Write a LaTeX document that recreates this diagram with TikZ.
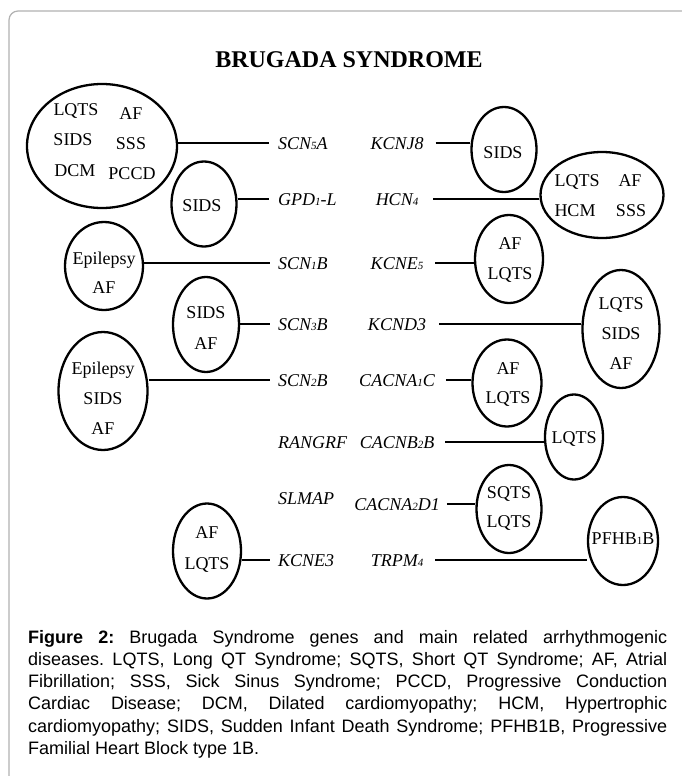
\documentclass[tikz,border=0pt]{standalone}
\usepackage{fontspec}
\setmainfont{Liberation Serif}
\newfontfamily\capfont{Liberation Sans}
\usetikzlibrary{shapes.geometric}
\newcommand{\sd}[1]{{\fontsize{11}{11}\selectfont #1}}
\frenchspacing
\begin{document}
\begin{tikzpicture}[x=1pt, y=-1pt,
  dis/.style={draw, ellipse, line width=2.3pt, inner sep=0pt},
  lab/.style={font=\fontsize{18}{18}\selectfont, inner sep=0pt, text height=12pt, text depth=0pt},
  gene/.style={font=\fontsize{18}{18}\selectfont\itshape, inner sep=0pt, text height=12pt, text depth=0pt},
  conn/.style={line width=2.8pt},
  capline/.style={anchor=base west, inner sep=0pt, font=\capfont\fontsize{18}{18}\selectfont}]
\useasboundingbox (0,0) rectangle (681,776);
\fill[white] (0,0) rectangle (681,776);
\draw[line width=1.2pt, draw=black!30, rounded corners=9pt] (682,11) -- (9,11) -- (9,777);

\node[font=\bfseries\fontsize{24}{24}\selectfont, inner sep=0pt, text height=16pt, text depth=0pt] (title) at (349,59) {BRUGADA SYNDROME};

% ellipses
\node[dis, minimum width=150pt, minimum height=124pt] (e1) at (102,146) {};
\node[dis, minimum width=65pt, minimum height=85pt] (e2) at (504,149.5) {};
\node[dis, minimum width=65pt, minimum height=85pt] (e3) at (204,204) {};
\node[dis, minimum width=123pt, minimum height=86pt] (e4) at (602,195) {};
\node[dis, minimum width=78pt, minimum height=88pt] (e5) at (104,266) {};
\node[dis, minimum width=68pt, minimum height=88pt] (e6) at (509,259) {};
\node[dis, minimum width=66pt, minimum height=95pt] (e7) at (206,324.5) {};
\node[dis, minimum width=77pt, minimum height=118pt] (e8) at (621,329) {};
\node[dis, minimum width=89pt, minimum height=118pt] (e9) at (103,391) {};
\node[dis, minimum width=69pt, minimum height=87pt] (e10) at (507,383) {};
\node[dis, minimum width=58pt, minimum height=85pt] (e11) at (574,437) {};
\node[dis, minimum width=65pt, minimum height=88pt] (e12) at (509,509) {};
\node[dis, minimum width=68pt, minimum height=95pt] (e13) at (207,551) {};
\node[dis, minimum width=70pt, minimum height=88pt] (e14) at (623,541) {};

% disease labels
\node[lab] (t1a) at (76,109) {LQTS};
\node[lab] (t1b) at (131,113) {AF};
\node[lab] (t1c) at (73,139) {SIDS};
\node[lab] (t1d) at (131,143) {SSS};
\node[lab] (t1e) at (75,170) {DCM};
\node[lab] (t1f) at (132,173) {PCCD};
\node[lab] (t2a) at (503,152) {SIDS};
\node[lab] (t3a) at (202,205) {SIDS};
\node[lab] (t4a) at (577,180) {LQTS};
\node[lab] (t4b) at (630,180) {AF};
\node[lab] (t4c) at (575,210) {HCM};
\node[lab] (t4d) at (631,210) {SSS};
\node[lab] (t5a) at (104,258) {Epilepsy};
\node[lab] (t5b) at (104,287) {AF};
\node[lab] (t6a) at (510,243) {AF};
\node[lab] (t6b) at (510,273) {LQTS};
\node[lab] (t7a) at (206,312) {SIDS};
\node[lab] (t7b) at (206,343) {AF};
\node[lab] (t8a) at (621,303) {LQTS};
\node[lab] (t8b) at (621,333) {SIDS};
\node[lab] (t8c) at (621,363) {AF};
\node[lab] (t9a) at (103,368) {Epilepsy};
\node[lab] (t9b) at (103,398) {SIDS};
\node[lab] (t9c) at (103,428) {AF};
\node[lab] (t10a) at (508,368) {AF};
\node[lab] (t10b) at (508,397) {LQTS};
\node[lab] (t11a) at (574,437) {LQTS};
\node[lab] (t12a) at (509,492) {SQTS};
\node[lab] (t12b) at (509,521) {LQTS};
\node[lab] (t13a) at (207,532) {AF};
\node[lab] (t13b) at (207,563) {LQTS};
\node[lab] (t14a) at (623,538) {PFHB\sd{1}B};

% genes, left column
\node[gene, anchor=west] (scn5a) at (278,143) {SCN\sd{5}A};
\node[gene, anchor=west] (gpd1l) at (278,199) {GPD\sd{1}-L};
\node[gene, anchor=west] (scn1b) at (278,263) {SCN\sd{1}B};
\node[gene, anchor=west] (scn3b) at (278,324) {SCN\sd{3}B};
\node[gene, anchor=west] (scn2b) at (278,380) {SCN\sd{2}B};
\node[gene, anchor=west] (rangrf) at (278,442) {RANGRF};
\node[gene, anchor=west] (slmap) at (278,498) {SLMAP};
\node[gene, anchor=west] (kcne3) at (278,560) {KCNE3};
% genes, right column
\node[gene] (kcnj8) at (397,143) {KCNJ8};
\node[gene] (hcn4) at (397,199) {HCN\sd{4}};
\node[gene] (kcne5) at (397,263) {KCNE\sd{5}};
\node[gene] (kcnd3) at (397,324) {KCND3};
\node[gene] (cacna1c) at (397,380) {CACNA\sd{1}C};
\node[gene] (cacnb2b) at (397,442) {CACNB\sd{2}B};
\node[gene] (cacna2d1) at (397,504) {CACNA\sd{2}D1};
\node[gene] (trpm4) at (397,560) {TRPM\sd{4}};

% connectors
\draw[conn] (e1.east |- scn5a) -- ([xshift=-9pt]scn5a.west);
\draw[conn] (e3.east |- gpd1l) -- ([xshift=-9pt]gpd1l.west);
\draw[conn] (e5.east |- scn1b) -- ([xshift=-8pt]scn1b.west);
\draw[conn] (e7.east |- scn3b) -- ([xshift=-8pt]scn3b.west);
\draw[conn] (e9.east |- scn2b) -- ([xshift=-8pt]scn2b.west);
\draw[conn] (e13.east |- kcne3) -- ([xshift=-8pt]kcne3.west);
\draw[conn] ([xshift=12pt]kcnj8.east) -- (e2.west |- kcnj8);
\draw[conn] ([xshift=15pt]hcn4.east) -- (e4.west |- hcn4);
\draw[conn] ([xshift=12pt]kcne5.east) -- (e6.west |- kcne5);
\draw[conn] ([xshift=13pt]kcnd3.east) -- (e8.west |- kcnd3);
\draw[conn] ([xshift=11pt]cacna1c.east) -- (e10.west |- cacna1c);
\draw[conn] ([xshift=11pt]cacnb2b.east) -- (e11.west |- cacnb2b);
\draw[conn] ([xshift=7pt]cacna2d1.east) -- (e12.west |- cacna2d1);
\draw[conn] ([xshift=12pt]trpm4.east) -- (e14.west |- trpm4);

% caption
\node[capline] (c1) at (28,643) {\makebox[639pt][s]{\textbf{Figure 2:} Brugada Syndrome genes and main related arrhythmogenic}};
\node[capline] (c2) at (28,665.3) {\makebox[639pt][s]{diseases. LQTS, Long QT Syndrome; SQTS, Short QT Syndrome; AF, Atrial}};
\node[capline] (c3) at (28,687.6) {\makebox[639pt][s]{Fibrillation; SSS, Sick Sinus Syndrome; PCCD, Progressive Conduction}};
\node[capline] (c4) at (28,709.9) {\makebox[639pt][s]{Cardiac Disease; DCM, Dilated cardiomyopathy; HCM, Hypertrophic}};
\node[capline] (c5) at (28,732.2) {\makebox[639pt][s]{cardiomyopathy; SIDS, Sudden Infant Death Syndrome; PFHB1B, Progressive}};
\node[capline] (c6) at (28,754.5) {Familial Heart Block type 1B.};
\end{tikzpicture}
\end{document}
